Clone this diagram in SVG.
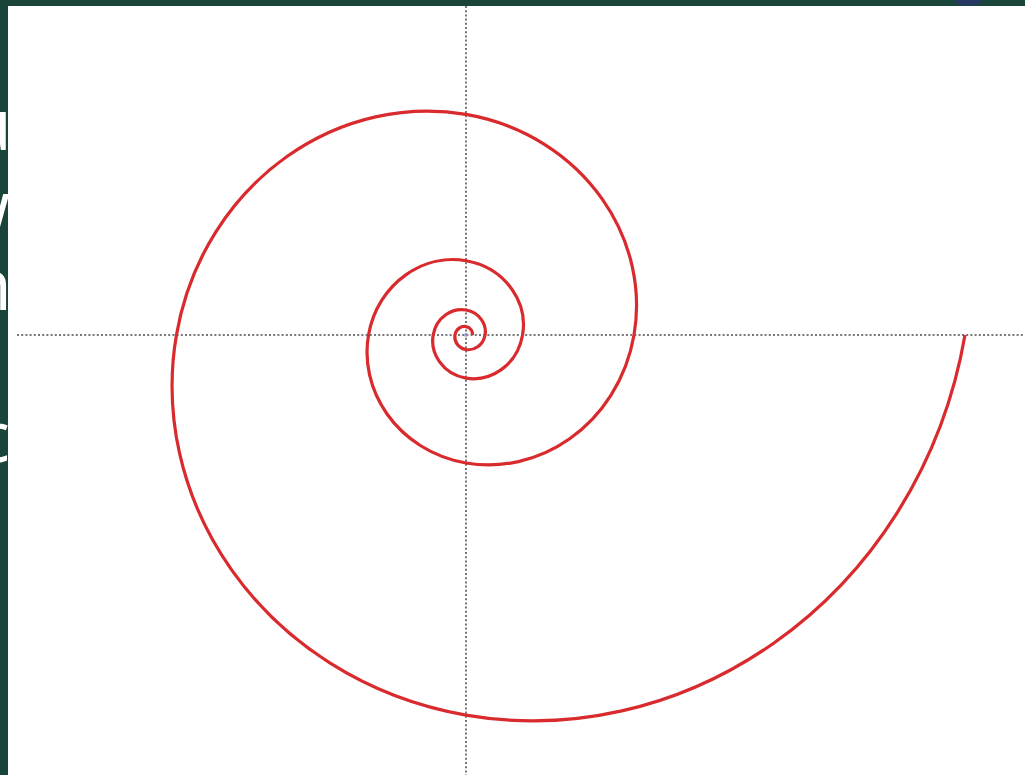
<svg xmlns="http://www.w3.org/2000/svg" xmlns:xlink="http://www.w3.org/1999/xlink" width="1025" height="775" viewBox="0 0 1025 775">
  <style>
    .axis { stroke: #777777; stroke-width: 2; stroke-dasharray: 2 2.2; fill: none; }
    .spiral { fill: none; stroke: #d92a2d; stroke-linejoin: round; }
    .frag { fill: #ffffff; font-family: "Open Sans", "DejaVu Sans", sans-serif; font-size: 72px; }
  </style>
  <defs>
    <path id="turn" d="M499,0 C476.07,132.34 403.77,240.43 307.95,307.95 C212.13,375.47 100.81,397.58 0,380.11 C-100.81,362.64 -183.14,307.57 -234.58,234.58 C-286.02,161.59 -302.85,76.79 -289.55,0 C-276.25,-76.79 -234.29,-139.51 -178.69,-178.69 C-123.09,-217.87 -58.50,-230.69 0,-220.56 C58.50,-210.43 106.27,-178.48 136.12,-136.12 C165.97,-93.76 175.73,-44.56 168.01,0"/>
    <clipPath id="leftBand"><rect x="0" y="0" width="8" height="775"/></clipPath>
  </defs>
  <rect x="0" y="0" width="1025" height="775" fill="#ffffff"/>
  <g id="frame">
    <rect x="0" y="0" width="1025" height="6" fill="#18443a"/>
    <rect x="0" y="0" width="8" height="775" fill="#18443a"/>
    <ellipse cx="968" cy="1" rx="13" ry="5" fill="#2c3272" opacity="0.7"/>
  </g>
  <g id="edge-text" clip-path="url(#leftBand)">
    <text class="frag" x="12" y="150" text-anchor="end">u</text>
    <text class="frag" x="10" y="232" text-anchor="end">w</text>
    <text class="frag" x="12" y="310" text-anchor="end">n</text>
    <text class="frag" x="10" y="462" text-anchor="end">c</text>
  </g>
  <g id="axes">
    <line class="axis" x1="17" y1="335" x2="1025" y2="335"/>
    <line class="axis" x1="466" y1="6" x2="466" y2="775"/>
    <circle cx="466" cy="335" r="2" fill="#8f96d8" opacity="0.7"/>
  </g>
  <g id="spiral" class="spiral">
    <use xlink:href="#turn" transform="translate(466 335)" stroke-width="3.2"/>
    <use xlink:href="#turn" transform="translate(466 335) scale(0.336700)" stroke-width="9.5"/>
    <use xlink:href="#turn" transform="translate(466 335) scale(0.113367)" stroke-width="28.2"/>
    <use xlink:href="#turn" transform="translate(466 335) scale(0.038171)" stroke-width="83.8"/>
  </g>
</svg>
